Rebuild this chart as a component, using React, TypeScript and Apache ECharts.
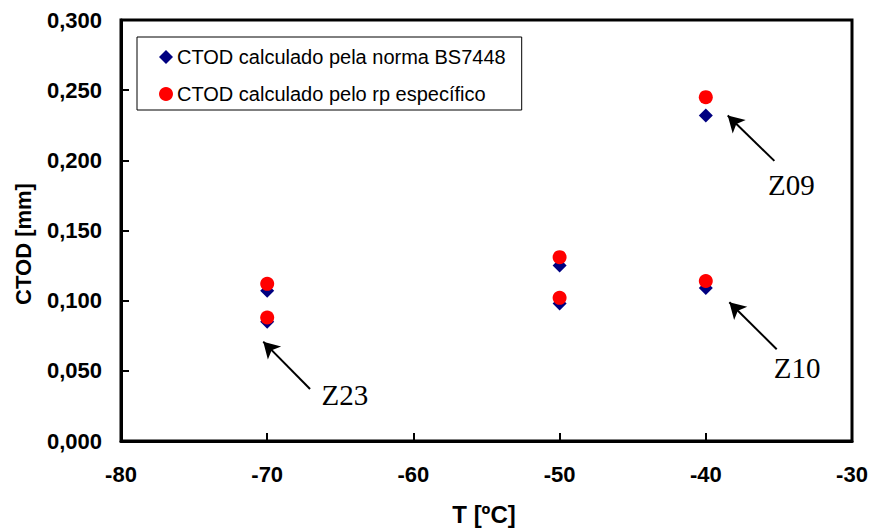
import React, { useEffect, useRef } from "react";
import * as echarts from "echarts";

const temps = [-70, -70, -50, -50, -40, -40];
const ctodBS7448 = [0.107, 0.085, 0.125, 0.098, 0.232, 0.109];
const ctodRp = [0.112, 0.088, 0.131, 0.102, 0.245, 0.114];
const seriesNames = [
  "CTOD calculado pela norma BS7448",
  "CTOD calculado pelo rp específico",
];
const annotLabels = ["Z23", "Z09", "Z10"];
const annotLabelPos = [
  [-64.68, 0.0328],
  [-34.14, 0.1825],
  [-33.76, 0.052],
];
const arrowTails = [
  [-67.07, 0.0371],
  [-35.31, 0.1996],
  [-35.15, 0.0654],
];
const arrowTips = [
  [-70.27, 0.0708],
  [-38.5, 0.2319],
  [-38.39, 0.0989],
];
const xRange = [-80, -30];
const xStep = 10;
const yRange = [0, 0.3];
const yStep = 0.05;
const xTitle = "T [ºC]";
const yTitle = "CTOD [mm]";

export default function App() {
  const ref = useRef<HTMLDivElement>(null);
  useEffect(() => {
    document.body.style.margin = "0";
    if (!ref.current) return;
    const chart = echarts.init(ref.current, null, { renderer: "svg" });
    const sans = "'Liberation Sans', Arial, sans-serif";
    const serif = "'Liberation Serif', 'Times New Roman', serif";
    chart.setOption({
      animation: false,
      backgroundColor: "#fff",
      grid: {
        left: 121,
        right: 19,
        top: 20,
        bottom: 88,
        show: true,
        borderColor: "#000",
        borderWidth: 3,
      },
      legend: {
        orient: "vertical",
        left: 137,
        top: 37,
        data: [
          { name: seriesNames[0], icon: "diamond" },
          { name: seriesNames[1], icon: "circle" },
        ],
        borderColor: "#000",
        borderWidth: 1,
        padding: [10, 16, 6, 22],
        itemWidth: 14,
        itemHeight: 14,
        itemGap: 17,
        itemStyle: { borderWidth: 0, opacity: 1 },
        textStyle: { fontFamily: sans, fontSize: 20, color: "#000", padding: [0, 0, 0, -1] },
        selectedMode: false,
      },
      xAxis: {
        type: "value",
        min: xRange[0],
        max: xRange[1],
        interval: xStep,
        axisLine: { show: true, lineStyle: { color: "#000", width: 3 } },
        axisTick: { show: true, inside: true, length: 8, lineStyle: { color: "#000", width: 2 } },
        splitLine: { show: false },
        axisLabel: {
          margin: 22,
          fontFamily: sans,
          fontWeight: "bold",
          fontSize: 22,
          color: "#000",
        },
      },
      yAxis: {
        type: "value",
        min: yRange[0],
        max: yRange[1],
        interval: yStep,
        axisLine: { show: true, lineStyle: { color: "#000", width: 3 } },
        axisTick: { show: true, inside: true, length: 8, lineStyle: { color: "#000", width: 2 } },
        splitLine: { show: false },
        axisLabel: {
          margin: 19,
          fontFamily: sans,
          fontWeight: "bold",
          fontSize: 22,
          color: "#000",
          formatter: (v: number) => v.toFixed(3).replace(".", ","),
        },
      },
      graphic: [
        {
          type: "text",
          x: 484,
          y: 514,
          style: {
            text: xTitle,
            font: `bold 24px ${sans}`,
            fill: "#000",
            textAlign: "center",
            textVerticalAlign: "middle",
          },
        },
        {
          type: "text",
          x: 23,
          y: 244,
          rotation: Math.PI / 2,
          style: {
            text: yTitle,
            font: `bold 22px ${sans}`,
            fill: "#000",
            textAlign: "center",
            textVerticalAlign: "middle",
          },
        },
      ],
      series: [
        {
          name: seriesNames[0],
          type: "scatter",
          symbol: "diamond",
          symbolSize: 14,
          itemStyle: { color: "#000080", opacity: 1 },
          data: temps.map((t, i) => [t, ctodBS7448[i]]),
          z: 2,
        },
        {
          name: seriesNames[1],
          type: "scatter",
          symbol: "circle",
          symbolSize: 14,
          itemStyle: { color: "#FF0000", opacity: 1 },
          data: temps.map((t, i) => [t, ctodRp[i]]),
          z: 3,
        },
        {
          name: "annotations",
          type: "scatter",
          symbolSize: 0,
          silent: true,
          itemStyle: { color: "#000", opacity: 1 },
          label: {
            show: true,
            position: "inside",
            formatter: "{b}",
            fontFamily: serif,
            fontSize: 29,
            color: "#000",
            opacity: 1,
          },
          data: annotLabelPos.map((p, i) => ({ name: annotLabels[i], value: p })),
          markLine: {
            silent: true,
            animation: false,
            symbol: ["none", "arrow"],
            symbolSize: [14, 16],
            label: { show: false },
            lineStyle: { color: "#000", width: 2, type: "solid", opacity: 1 },
            data: arrowTails.map((t, i) => [
              { coord: t },
              { coord: arrowTips[i] },
            ]),
          },
        },
      ],
    });
    return () => chart.dispose();
  }, []);
  return <div ref={ref} style={{ width: 871, height: 529 }} />;
}
